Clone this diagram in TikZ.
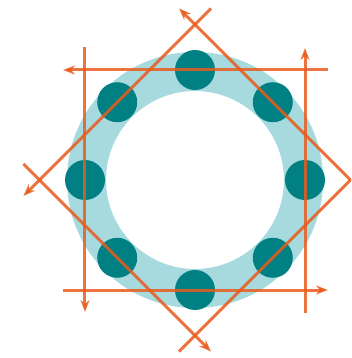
\documentclass[tikz,border=0pt]{standalone}
\usetikzlibrary{arrows.meta}

\definecolor{ringblue}{RGB}{166,218,222}
\definecolor{dotteal}{RGB}{0,128,130}
\definecolor{lineorange}{RGB}{232,92,30}

\begin{document}
\begin{tikzpicture}[
        x=1pt, y=1pt,
        ring/.style={fill=ringblue, even odd rule},
        seat/.style={fill=dotteal},
        guide/.style={draw=lineorange, line width=3pt, draw opacity=0.85},
        tip/.style={arrows={-Stealth[length=12pt, width=9pt]}}
        ]

        \useasboundingbox (-195,-178) rectangle (156,180);
        \clip (-195,-178) rectangle (156,180);

        \path [ring] (0,0) circle (128) (0,0) circle (89);
        \foreach \a in {0,45,...,315}
            \path [seat] (\a:110) circle (20);

        % square
        \coordinate (topL)   at (-132,110);   \coordinate (topR)   at (133,110);
        \coordinate (botL)   at (-132,-110);  \coordinate (botR)   at (133,-110);
        \coordinate (leftT)  at (-110,133);   \coordinate (leftB)  at (-110,-132);
        \coordinate (rightT) at (110,132);    \coordinate (rightB) at (110,-133);

        \draw [guide, tip] (topR)   -- (topL);
        \draw [guide, tip] (botL)   -- (botR);
        \draw [guide, tip] (leftT)  -- (leftB);
        \draw [guide, tip] (rightB) -- (rightT);

        % diamond
        \coordinate (nwA) at (16,171.6);    \coordinate (nwB) at (-171.6,-16);
        \coordinate (neA) at (155.6,0);     \coordinate (neB) at (-16,171.6);
        \coordinate (swA) at (-171.6,16);   \coordinate (swB) at (16,-171.6);
        \coordinate (seA) at (-16,-171.6);  \coordinate (seB) at (155.6,0);

        \draw [guide, tip] (nwA) -- (nwB);
        \draw [guide, tip] (neA) -- (neB);
        \draw [guide, tip] (swA) -- (swB);
        \draw [guide]      (seA) -- (seB);

    \end{tikzpicture}
\end{document}
